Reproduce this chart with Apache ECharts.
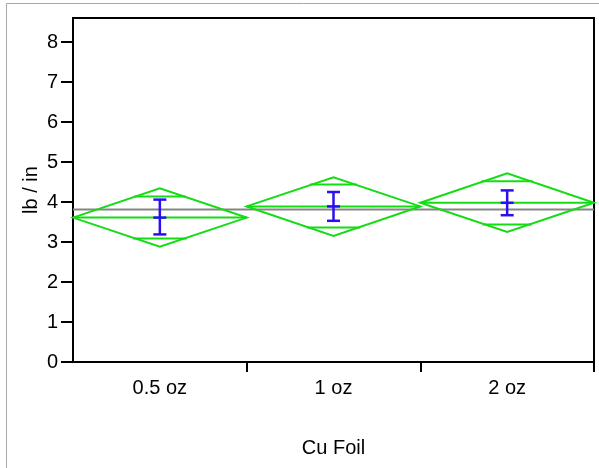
<!DOCTYPE html>
<html><head><meta charset="utf-8">
<script src="https://cdn.jsdelivr.net/npm/echarts@6/dist/echarts.min.js"></script>
<style>html,body{margin:0;padding:0;background:#fff}#c{width:599px;height:468px}</style>
</head><body><div id="c"></div>
<script>
const categories = ['0.5 oz', '1 oz', '2 oz'];
const means = [3.61, 3.89, 3.98];
const ciUpper = [4.34, 4.62, 4.72];
const ciLower = [2.88, 3.15, 3.25];
const overlapUpper = [4.14, 4.44, 4.52];
const overlapLower = [3.09, 3.36, 3.44];
const errUpper = [4.06, 4.25, 4.29];
const errLower = [3.19, 3.53, 3.67];
const grandMean = 3.81;
const yTicks = [0, 1, 2, 3, 4, 5, 6, 7, 8];
const yTitle = 'lb / in';
const xTitle = 'Cu Foil';

const GREEN = '#14dc14';
const BLUE = '#2a10f0';
const FONT = '"Liberation Sans", Arial, sans-serif';

const chart = echarts.init(document.getElementById('c'), null, {renderer: 'canvas'});

function renderDiamond(params, api) {
  const i = api.value(0);
  const c = api.coord([i, api.value(1)]);
  const cx = c[0], ym = c[1];
  const hw = api.size([1, 0])[0] / 2;
  const yHi = api.coord([i, api.value(2)])[1];
  const yLo = api.coord([i, api.value(3)])[1];
  const yOH = api.coord([i, api.value(4)])[1];
  const yOL = api.coord([i, api.value(5)])[1];
  const yEH = api.coord([i, api.value(6)])[1];
  const yEL = api.coord([i, api.value(7)])[1];
  const gs = {stroke: GREEN, lineWidth: 2, fill: 'none'};
  const bs = {stroke: BLUE, lineWidth: 2.5, fill: 'none'};
  const wHi = hw * (1 - (ym - yOH) / (ym - yHi)) + 2;
  const wLo = hw * (1 - (yOL - ym) / (yLo - ym)) + 2;
  const cap = 6.5;
  return {
    type: 'group',
    children: [
      {type: 'polygon', shape: {points: [[cx - hw, ym], [cx, yHi], [cx + hw, ym], [cx, yLo]]}, style: gs},
      {type: 'line', shape: {x1: cx - hw, y1: ym, x2: cx + hw, y2: ym}, style: gs},
      {type: 'line', shape: {x1: cx - wHi, y1: yOH, x2: cx + wHi, y2: yOH}, style: gs},
      {type: 'line', shape: {x1: cx - wLo, y1: yOL, x2: cx + wLo, y2: yOL}, style: gs},
      {type: 'line', shape: {x1: cx, y1: yEH, x2: cx, y2: yEL}, style: bs},
      {type: 'line', shape: {x1: cx - cap, y1: yEH, x2: cx + cap, y2: yEH}, style: bs},
      {type: 'line', shape: {x1: cx - cap, y1: yEL, x2: cx + cap, y2: yEL}, style: bs},
      {type: 'line', shape: {x1: cx - cap, y1: ym, x2: cx + cap, y2: ym}, style: bs}
    ]
  };
}

function renderGrand(params, api) {
  const cs = params.coordSys;
  const y = api.coord([0, api.value(1)])[1];
  return {type: 'line', shape: {x1: cs.x, y1: y, x2: cs.x + cs.width, y2: y},
          style: {stroke: '#858585', lineWidth: 2}};
}

const diamondData = categories.map((c, i) => [i, means[i], ciUpper[i], ciLower[i],
  overlapUpper[i], overlapLower[i], errUpper[i], errLower[i]]);

chart.setOption({
  animation: false,
  backgroundColor: '#fff',
  graphic: [{
    type: 'rect', x: 6.5, y: 3.5, silent: true, z: -10,
    shape: {x: 0, y: 0, width: 700, height: 700},
    style: {fill: 'none', stroke: '#a8a8a8', lineWidth: 1}
  }, {
    type: 'text', x: 31, y: 190, rotation: Math.PI / 2, silent: true,
    style: {text: yTitle, font: '20px ' + FONT, fill: '#000', align: 'center', verticalAlign: 'middle'}
  }],
  grid: {left: 73, right: 5, top: 18, bottom: 106, show: true, borderColor: '#000', borderWidth: 2, backgroundColor: 'transparent'},
  xAxis: {
    type: 'category', data: categories, boundaryGap: true,
    name: xTitle, nameLocation: 'middle', nameGap: 76,
    nameTextStyle: {fontFamily: FONT, fontSize: 20, color: '#000'},
    axisLine: {lineStyle: {color: '#000', width: 2}},
    axisTick: {show: true, length: 10, lineStyle: {color: '#000', width: 2}, interval: function (idx) { return idx !== 0; }},
    axisLabel: {fontFamily: FONT, fontSize: 20, color: '#000', margin: 16, interval: 0},
    splitLine: {show: false}
  },
  yAxis: {
    type: 'value', min: 0, max: 8.6, interval: 1,
    axisLine: {show: true, lineStyle: {color: '#000', width: 2}},
    axisTick: {show: true, length: 12, lineStyle: {color: '#000', width: 2}, customValues: yTicks},
    axisLabel: {fontFamily: FONT, fontSize: 20, color: '#000', margin: 15, customValues: yTicks},
    splitLine: {show: false}
  },
  series: [
    {type: 'custom', name: 'grand', z: 1, renderItem: renderGrand, data: [[0, grandMean]], silent: true, clip: false},
    {type: 'custom', name: 'means', z: 2, renderItem: renderDiamond, data: diamondData, encode: {x: 0, y: 1}, silent: true, clip: false}
  ]
});
</script>
</body></html>
